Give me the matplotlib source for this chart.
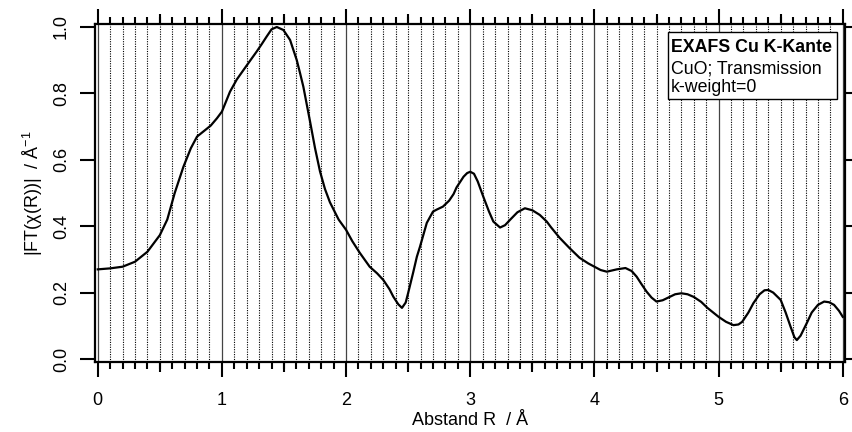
import numpy as np
import matplotlib
matplotlib.use('Agg')
import matplotlib.pyplot as plt
from matplotlib.patches import Rectangle

plt.rcParams['font.family'] = ['Liberation Sans', 'DejaVu Sans']

# values
r = [0.00, 0.10, 0.20, 0.30, 0.40, 0.50, 0.56, 0.62, 0.69, 0.75, 0.80, 0.86, 0.91, 0.96,
     1.00, 1.065, 1.12, 1.173, 1.23, 1.28, 1.32, 1.36, 1.40, 1.442, 1.495, 1.549, 1.603, 1.63,
     1.656, 1.71, 1.75, 1.79, 1.83, 1.87, 1.94, 2.00, 2.05, 2.11, 2.19, 2.25, 2.30, 2.35,
     2.38, 2.42, 2.45, 2.48, 2.50, 2.54, 2.57, 2.595, 2.65, 2.70, 2.73, 2.78, 2.83, 2.866,
     2.89, 2.946, 2.975, 3.00, 3.03, 3.06, 3.105, 3.15, 3.186, 3.24, 3.28, 3.32, 3.38, 3.44,
     3.50, 3.56, 3.616, 3.65, 3.72, 3.80, 3.88, 3.95, 4.00, 4.05, 4.10, 4.18, 4.25, 4.30,
     4.34, 4.38, 4.42, 4.46, 4.50, 4.55, 4.60, 4.65, 4.70, 4.75, 4.80, 4.86, 4.91, 4.96,
     5.00, 5.06, 5.12, 5.16, 5.19, 5.24, 5.28, 5.33, 5.37, 5.40, 5.44, 5.50, 5.54, 5.58,
     5.61, 5.63, 5.66, 5.71, 5.75, 5.80, 5.85, 5.89, 5.93, 5.97, 6.00]
ft = [0.270, 0.273, 0.278, 0.293, 0.323, 0.373, 0.420, 0.500, 0.579, 0.635, 0.670, 0.688, 0.703, 0.725,
      0.745, 0.805, 0.842, 0.870, 0.900, 0.926, 0.948, 0.971, 0.993, 1.000, 0.991, 0.961, 0.900, 0.860,
      0.820, 0.715, 0.635, 0.565, 0.512, 0.472, 0.420, 0.389, 0.355, 0.320, 0.278, 0.258, 0.238, 0.210,
      0.188, 0.165, 0.154, 0.170, 0.199, 0.260, 0.308, 0.338, 0.410, 0.444, 0.450, 0.459, 0.477, 0.497,
      0.517, 0.549, 0.560, 0.564, 0.558, 0.535, 0.489, 0.445, 0.414, 0.396, 0.403, 0.419, 0.442, 0.454,
      0.448, 0.434, 0.414, 0.397, 0.365, 0.334, 0.305, 0.288, 0.278, 0.268, 0.263, 0.270, 0.274, 0.265,
      0.248, 0.225, 0.203, 0.185, 0.173, 0.177, 0.186, 0.195, 0.198, 0.195, 0.187, 0.172, 0.154, 0.139,
      0.127, 0.112, 0.102, 0.104, 0.112, 0.140, 0.168, 0.195, 0.207, 0.208, 0.200, 0.178, 0.140, 0.097,
      0.066, 0.057, 0.070, 0.108, 0.140, 0.163, 0.173, 0.171, 0.163, 0.145, 0.127]

legend_lines = ['EXAFS Cu K-Kante', 'CuO; Transmission', 'k-weight=0']

fig = plt.figure(figsize=(8.53, 4.32), dpi=100)
ax = fig.add_axes([95 / 853, 1 - 362 / 432, 750 / 853, 338 / 432])

ax.plot(r, ft, color='black', lw=1.6, zorder=3)

ax.set_xlim(-0.022, 6.018)
ax.set_ylim(-0.009, 1.009)

# x ticks: integers long, 0.1 short, 0.5 medium (secondary axes)
ax.set_xticks(np.arange(0, 7, 1))
ax.set_xticks(np.arange(0, 6.01, 0.1), minor=True)
ax.set_yticks(np.arange(0, 1.01, 0.2))
ax.set_yticklabels([f'{v:.1f}' for v in np.arange(0, 1.01, 0.2)], rotation=90, va='center')
ax.tick_params(axis='x', which='major', direction='out', length=10.5, width=1.5,
               top=True, bottom=True, labelsize=13, pad=11)
ax.tick_params(axis='x', which='minor', direction='out', length=5, width=1.5,
               top=True, bottom=True)
ax.tick_params(axis='y', which='major', direction='out', length=11, width=1.5,
               left=True, right=False, labelsize=13, pad=7)

for side in ['bottom', 'top']:
    sec = ax.secondary_xaxis(side)
    sec.set_xticks(np.arange(0.5, 6, 1.0))
    sec.set_xticklabels([])
    sec.tick_params(direction='out', length=7.5, width=1.5)
    sec.spines[side].set_visible(False)

secy = ax.secondary_yaxis('right')
secy.set_yticks(np.arange(0, 1.01, 0.2))
secy.set_yticklabels([])
secy.tick_params(direction='out', length=6, width=1.5)
secy.spines['right'].set_visible(False)

for s in ax.spines.values():
    s.set_linewidth(1.6)

# vertical grid
ax.grid(which='major', axis='x', color='#444444', lw=0.9, ls='-', zorder=1)
ax.grid(which='minor', axis='x', color='black', lw=0.8, ls=(0, (1, 1.2)), zorder=1)
ax.grid(which='major', axis='y', visible=False)

ax.set_xlabel('Abstand R  / Å', fontsize=13, labelpad=2)
ax.set_ylabel('|FT(χ(R))|  / Å$^{\\mathregular{-1}}$', fontsize=13, labelpad=6)

# annotation box
ax.add_patch(Rectangle((4.59, 0.783), 1.36, 0.202, facecolor='white',
                       edgecolor='black', lw=1.0, zorder=4))
ys = [0.926, 0.861, 0.805]
for i, (txt, y) in enumerate(zip(legend_lines, ys)):
    ax.text(4.615, y, txt, fontsize=12.8, va='baseline', ha='left',
            fontweight='bold' if i == 0 else 'normal', zorder=5)

fig.savefig('out.png', dpi=100)
